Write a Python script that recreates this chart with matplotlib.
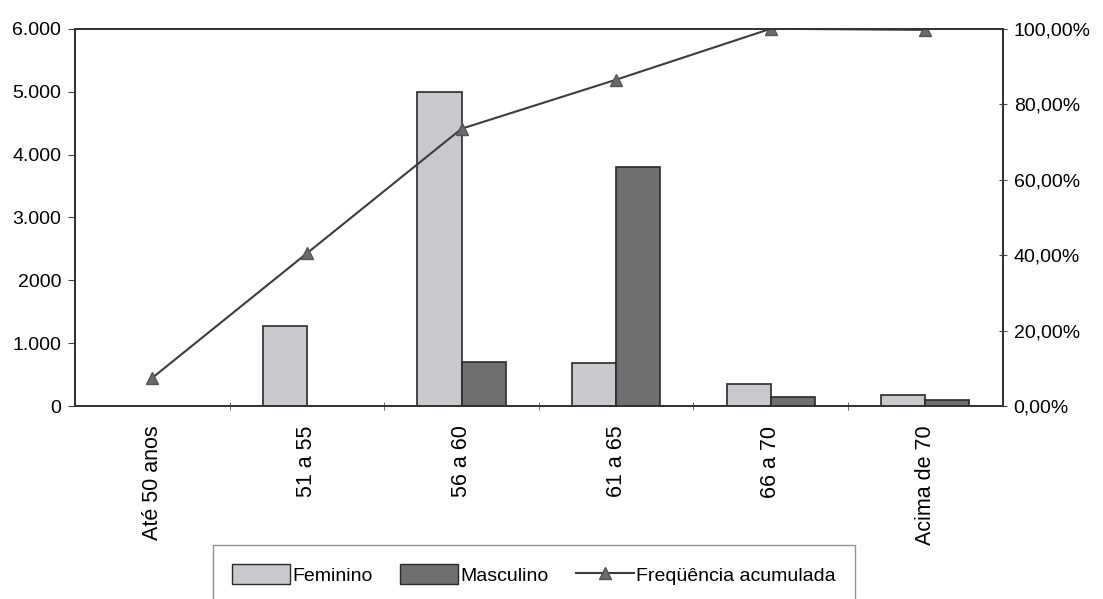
import matplotlib
matplotlib.use("Agg")
import matplotlib.pyplot as plt
from matplotlib.lines import Line2D
from matplotlib.patches import Patch
import numpy as np

categorias = ["Até 50 anos", "51 a 55", "56 a 60", "61 a 65", "66 a 70", "Acima de 70"]
feminino = [0, 1270, 5000, 680, 350, 175]
masculino = [0, 0, 700, 3800, 145, 90]
freq_acumulada = [7.5, 40.5, 73.5, 86.5, 100.0, 99.7]

left_ticks = [0, 1000, 2000, 3000, 4000, 5000, 6000]
left_labels = ["0", "1.000", "2000", "3.000", "4.000", "5.000", "6.000"]
right_ticks = [0, 20, 40, 60, 80, 100]
right_labels = ["0,00%", "20,00%", "40,00%", "60,00%", "80,00%", "100,00%"]

plt.rcParams["font.family"] = ["Liberation Sans Narrow", "Liberation Sans", "DejaVu Sans"]

cor_fem = "#c9c9cd"
cor_masc = "#6f6f70"
cor_linha = "#3c3c3c"

fig = plt.figure(figsize=(11.03, 5.99), dpi=100)
ax = fig.add_axes([0.068, 0.322, 0.841, 0.63])

x = np.arange(len(categorias))
w = 0.285
ax.bar(x - w / 2, feminino, w, color=cor_fem, edgecolor="#2a2a2a", linewidth=1.2)
ax.bar(x + w / 2, masculino, w, color=cor_masc, edgecolor="#2a2a2a", linewidth=1.2)

ax.set_xlim(-0.5, len(categorias) - 0.5)
ax.set_ylim(0, 6000)
ax.set_yticks(left_ticks)
ax.set_yticklabels(left_labels, fontsize=14)
ax.set_xticks(x)
ax.set_xticklabels(categorias, rotation=90, fontsize=15.5)
ax.tick_params(axis="x", length=0, pad=14)
ax.set_xticks(np.arange(0.5, len(categorias) - 0.5, 1), minor=True)
ax.tick_params(axis="x", which="minor", length=6, direction="inout", color="#555555")
ax.tick_params(axis="y", length=5, color="#444444", pad=5)
for s in ax.spines.values():
    s.set_color("#333333")
    s.set_linewidth(1.3)

ax2 = ax.twinx()
ax2.plot(x, freq_acumulada, color=cor_linha, linewidth=1.5, marker="^",
         markersize=9, markerfacecolor="#6a6a6a", markeredgecolor="#555555")
ax2.set_ylim(0, 100)
ax2.set_yticks(right_ticks)
ax2.set_yticklabels(right_labels, fontsize=14)
ax2.tick_params(axis="y", length=6, direction="inout", color="#444444", pad=5)
for s in ax2.spines.values():
    s.set_color("#333333")
    s.set_linewidth(1.3)

handles = [
    Patch(facecolor=cor_fem, edgecolor="#2a2a2a", label="Feminino"),
    Patch(facecolor=cor_masc, edgecolor="#2a2a2a", label="Masculino"),
    Line2D([0], [0], color=cor_linha, marker="^", markersize=8,
           markerfacecolor="#6a6a6a", markeredgecolor="#555555", label="Freqüência acumulada"),
]
leg = fig.legend(handles=handles, loc="lower center", bbox_to_anchor=(0.484, -0.025),
                 ncol=3, fontsize=14, frameon=True, fancybox=False,
                 handlelength=3.0, handleheight=1.2, handletextpad=0.1, columnspacing=1.4,
                 borderpad=1.0, edgecolor="#777777")
leg.get_frame().set_linewidth(1.0)

fig.savefig("out.png", dpi=100, facecolor="white")
